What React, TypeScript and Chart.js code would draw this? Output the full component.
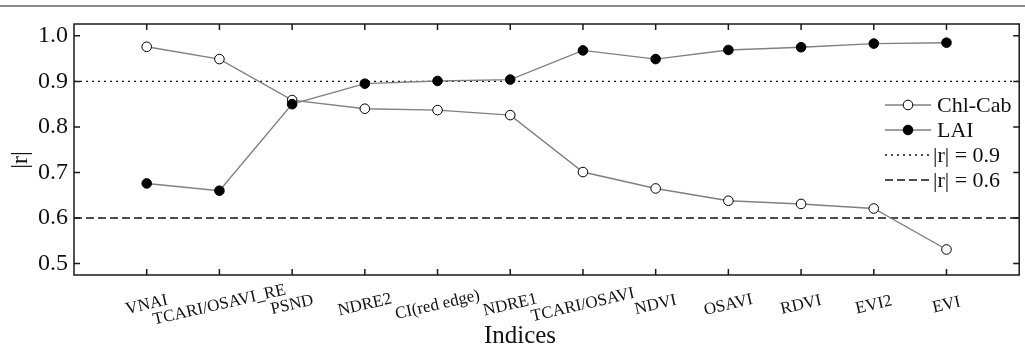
import React, { useEffect, useRef } from "react";
import { Chart, registerables } from "chart.js";

Chart.register(...registerables);

const categories = [
  "VNAI",
  "TCARI/OSAVI_RE",
  "PSND",
  "NDRE2",
  "CI(red edge)",
  "NDRE1",
  "TCARI/OSAVI",
  "NDVI",
  "OSAVI",
  "RDVI",
  "EVI2",
  "EVI",
];
const chlCab = [0.976, 0.949, 0.859, 0.84, 0.837, 0.826, 0.701, 0.665, 0.638, 0.631, 0.621, 0.531];
const lai = [0.676, 0.66, 0.85, 0.895, 0.901, 0.904, 0.968, 0.949, 0.969, 0.975, 0.983, 0.985];
const yTicks = [0.5, 0.6, 0.7, 0.8, 0.9, 1.0];
const thresholdHigh = 0.9;
const thresholdLow = 0.6;
const seriesNames = ["Chl-Cab", "LAI", "|r| = 0.9", "|r| = 0.6"];
const xTitle = "Indices";
const yTitle = "|r|";

const FONT = "'Liberation Serif', 'Times New Roman', serif";

const decorPlugin = {
  id: "decor",
  beforeDraw(chart: any) {
    const ctx = chart.ctx;
    ctx.save();
    ctx.fillStyle = "#ffffff";
    ctx.fillRect(0, 0, chart.width, chart.height);
    ctx.strokeStyle = "#8c8c8c";
    ctx.lineWidth = 2;
    ctx.beginPath();
    ctx.moveTo(0, 6);
    ctx.lineTo(chart.width, 6);
    ctx.stroke();
    ctx.restore();
  },
  afterDraw(chart: any) {
    const ctx = chart.ctx;
    const area = chart.chartArea;
    const xs = chart.scales.x;
    const ys = chart.scales.y;
    ctx.save();
    // frame
    ctx.strokeStyle = "#1a1a1a";
    ctx.lineWidth = 1.5;
    ctx.strokeRect(area.left, area.top, area.right - area.left, area.bottom - area.top);
    // inward ticks
    const tl = 6;
    ctx.beginPath();
    categories.forEach((_, i) => {
      const px = xs.getPixelForValue(i);
      ctx.moveTo(px, area.bottom);
      ctx.lineTo(px, area.bottom - tl);
      ctx.moveTo(px, area.top);
      ctx.lineTo(px, area.top + tl);
    });
    yTicks.forEach((v) => {
      const py = ys.getPixelForValue(v);
      ctx.moveTo(area.left, py);
      ctx.lineTo(area.left + tl, py);
      ctx.moveTo(area.right, py);
      ctx.lineTo(area.right - tl, py);
    });
    ctx.stroke();

    // x category labels, rotated and centred under ticks
    ctx.fillStyle = "#111";
    ctx.font = `17px ${FONT}`;
    ctx.textAlign = "center";
    ctx.textBaseline = "middle";
    categories.forEach((c, i) => {
      const px = xs.getPixelForValue(i);
      ctx.save();
      ctx.translate(px, 305);
      ctx.rotate((-13 * Math.PI) / 180);
      ctx.fillText(c, 0, 0);
      ctx.restore();
    });

    // axis titles
    ctx.font = `25px ${FONT}`;
    ctx.fillText(xTitle, 520, 336);
    ctx.save();
    ctx.translate(21, 160);
    ctx.rotate(-Math.PI / 2);
    ctx.font = `24px ${FONT}`;
    ctx.fillText(yTitle, 0, 0);
    ctx.restore();

    // legend
    const rows = [105, 130, 155, 180];
    const lx0 = 885;
    const lx1 = 931;
    ctx.textAlign = "left";
    ctx.font = `22px ${FONT}`;
    rows.forEach((ry, k) => {
      ctx.save();
      if (k < 2) {
        ctx.strokeStyle = "#808080";
        ctx.lineWidth = 1.3;
        ctx.setLineDash([]);
      } else {
        ctx.strokeStyle = "#111";
        ctx.lineWidth = 1.4;
        ctx.setLineDash(k === 2 ? [2, 4] : [8, 4]);
      }
      ctx.beginPath();
      ctx.moveTo(lx0, ry);
      ctx.lineTo(lx1, ry);
      ctx.stroke();
      ctx.setLineDash([]);
      if (k < 2) {
        ctx.beginPath();
        ctx.arc(908, ry, 4.8, 0, Math.PI * 2);
        ctx.fillStyle = k === 0 ? "#fff" : "#000";
        ctx.fill();
        ctx.strokeStyle = "#000";
        ctx.lineWidth = 1;
        ctx.stroke();
      }
      ctx.restore();
      ctx.fillStyle = "#111";
      ctx.fillText(seriesNames[k], k < 2 ? 937 : 933, ry + 1);
    });
    ctx.restore();
  },
};

export default function App() {
  const ref = useRef<HTMLCanvasElement | null>(null);
  useEffect(() => {
    if (!ref.current) return;
    const chart = new Chart(ref.current, {
      type: "scatter",
      data: {
        datasets: [
          {
            label: seriesNames[2],
            data: [
              { x: -1, y: thresholdHigh },
              { x: 12, y: thresholdHigh },
            ],
            showLine: true,
            borderColor: "#111",
            borderWidth: 1.4,
            borderDash: [2, 4],
            pointRadius: 0,
            order: 4,
          },
          {
            label: seriesNames[3],
            data: [
              { x: -1, y: thresholdLow },
              { x: 12, y: thresholdLow },
            ],
            showLine: true,
            borderColor: "#111",
            borderWidth: 1.4,
            borderDash: [8, 4],
            pointRadius: 0,
            order: 3,
          },
          {
            label: seriesNames[0],
            data: chlCab.map((v, i) => ({ x: i, y: v })),
            showLine: true,
            borderColor: "#808080",
            borderWidth: 1.4,
            pointRadius: 4.8,
            pointBackgroundColor: "#ffffff",
            pointBorderColor: "#000000",
            pointBorderWidth: 1,
            order: 2,
          },
          {
            label: seriesNames[1],
            data: lai.map((v, i) => ({ x: i, y: v })),
            showLine: true,
            borderColor: "#808080",
            borderWidth: 1.4,
            pointRadius: 4.8,
            pointBackgroundColor: "#000000",
            pointBorderColor: "#000000",
            pointBorderWidth: 1,
            order: 1,
          },
        ],
      },
      options: {
        animation: false,
        responsive: false,
        devicePixelRatio: 1,
        layout: { padding: { left: 0, top: 24, right: 0, bottom: 0 } },
        plugins: {
          legend: { display: false },
          tooltip: { enabled: false },
          title: { display: false },
        },
        scales: {
          x: {
            type: "linear",
            min: -1,
            max: 12,
            grid: { display: false, drawTicks: false },
            border: { display: false },
            ticks: { display: false },
            afterBuildTicks: (s: any) => {
              s.ticks = categories.map((_, i) => ({ value: i }));
            },
            afterFit: (s: any) => {
              s.height = 73;
            },
          },
          y: {
            type: "linear",
            min: 0.475,
            max: 1.026,
            grid: { display: false, drawTicks: false },
            border: { display: false },
            afterBuildTicks: (s: any) => {
              s.ticks = yTicks.map((v) => ({ value: v }));
            },
            afterFit: (s: any) => {
              s.width = 74;
            },
            ticks: {
              padding: 6,
              color: "#111",
              font: { family: FONT, size: 24 },
              callback: (v: any) => Number(v).toFixed(1),
            },
          },
        },
      },
      plugins: [decorPlugin],
    });
    return () => chart.destroy();
  }, []);
  return (
    <div style={{ position: "absolute", left: 0, top: 0, width: 1025, height: 348 }}>
      <canvas ref={ref} width={1025} height={348} style={{ width: 1025, height: 348, display: "block" }} />
    </div>
  );
}
